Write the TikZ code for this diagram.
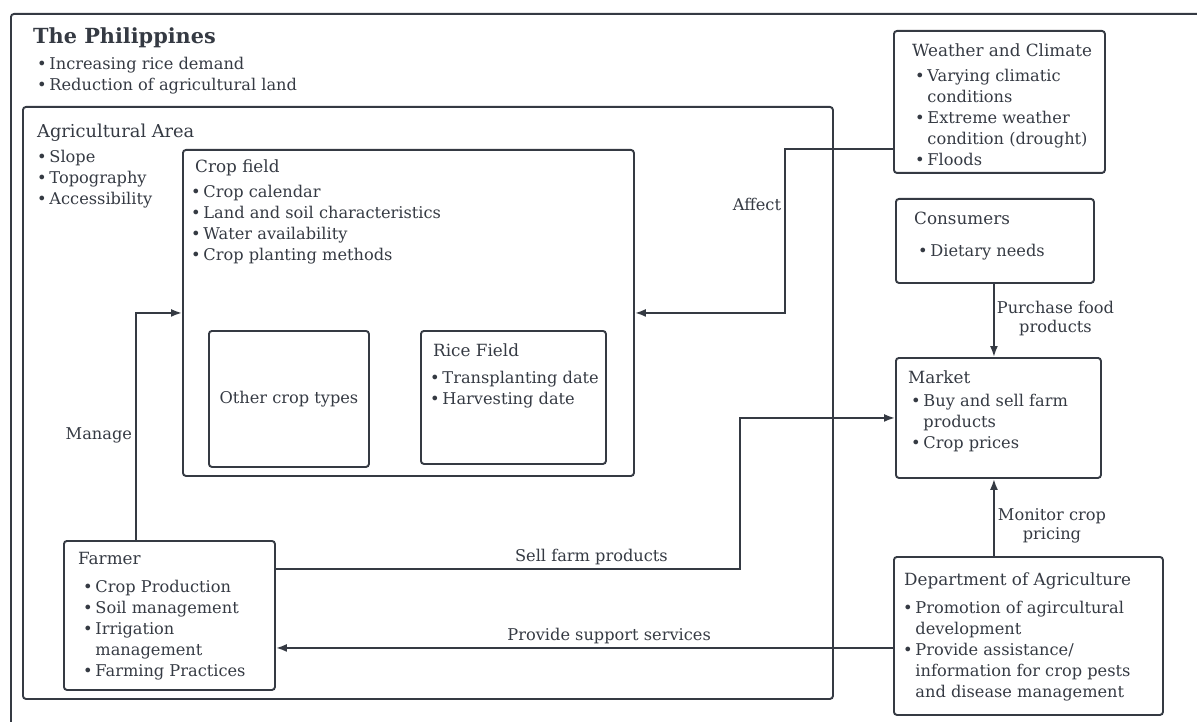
\documentclass[tikz,border=0pt]{standalone}
\usepackage{fontspec}
\setmainfont{DejaVu Serif}
\usetikzlibrary{positioning,arrows.meta}
\definecolor{ink}{HTML}{353A43}

\tikzset{
  box/.style={draw=ink, line width=1.9pt, rounded corners=3pt, anchor=north west, inner sep=0pt},
  txt/.style={inner sep=0pt, align=left, text=ink, font=\fontsize{16.2}{21}\selectfont},
  head/.style={txt, font=\fontsize{16.8}{21}\selectfont},
  conn/.style={draw=ink, line width=1.9pt, -{Latex[length=11pt,width=8pt]}},
  lbl/.style={text=ink, font=\fontsize{16.2}{19}\selectfont, inner sep=3pt, align=center},
}
\newcommand{\bul}{\textbullet\,}
\newcommand{\ind}{\hphantom{\textbullet\,}}

\begin{document}
\begin{tikzpicture}[x=1pt,y=-1pt]
  \useasboundingbox (0,0) rectangle (1197,722);
  \clip (0,0) rectangle (1197,722);

  % boxes
  \node[box, minimum width=1200, minimum height=720] (phil) at (10,13) {};
  \node[box, minimum width=810, minimum height=592] (agri) at (22,106) {};
  \node[box, minimum width=451, minimum height=326] (crop) at (182,149) {};
  \node[box, minimum width=160, minimum height=136] (other) at (208,330) {};
  \node[box, minimum width=185, minimum height=133] (rice) at (420,330) {};
  \node[box, minimum width=211, minimum height=142] (weather) at (893,30) {};
  \node[box, minimum width=198, minimum height=84] (cons) at (895,198) {};
  \node[box, minimum width=205, minimum height=120] (market) at (895,357) {};
  \node[box, minimum width=269, minimum height=158] (dept) at (893,556) {};
  \node[box, minimum width=211, minimum height=149] (farmer) at (63,540) {};

  % texts
  \node[txt, font=\fontsize{20.8}{24}\selectfont\bfseries, below right=14pt and 23pt of phil.north west] (philT) {The Philippines};
  \node[txt, below right=44pt and 27pt of phil.north west] (philL) {\bul Increasing rice demand\\\bul Reduction of agricultural land};
  \node[head, font=\fontsize{17.8}{21}\selectfont, below right=18pt and 15pt of agri.north west] (agriT) {Agricultural Area};
  \node[txt, below right=44pt and 15pt of agri.north west] (agriL) {\bul Slope\\\bul Topography\\\bul Accessibility};
  \node[head, below right=11pt and 13pt of crop.north west] (cropT) {Crop field};
  \node[txt, below right=36pt and 9pt of crop.north west] (cropL) {\bul Crop calendar\\\bul Land and soil characteristics\\\bul Water availability\\\bul Crop planting methods};
  \node[txt] (otherT) at (other.center) {Other crop types};
  \node[head, below right=14pt and 13pt of rice.north west] (riceT) {Rice Field};
  \node[txt, below right=41pt and 10pt of rice.north west] (riceL) {\bul Transplanting date\\\bul Harvesting date};
  \node[head, below right=14pt and 19pt of weather.north west] (weatherT) {Weather and Climate};
  \node[txt, below right=39pt and 22pt of weather.north west] (weatherL) {\bul Varying climatic\\\ind conditions\\\bul Extreme weather\\\ind condition (drought)\\\bul Floods};
  \node[head, below right=14pt and 19pt of cons.north west] (consT) {Consumers};
  \node[txt, below right=46pt and 23pt of cons.north west] (consL) {\bul Dietary needs};
  \node[head, below right=14pt and 13pt of market.north west] (marketT) {Market};
  \node[txt, below right=37pt and 16pt of market.north west] (marketL) {\bul Buy and sell farm\\\ind products\\\bul Crop prices};
  \node[head, below right=17pt and 11pt of dept.north west] (deptT) {Department of Agriculture};
  \node[txt, below right=45pt and 10pt of dept.north west] (deptL) {\bul Promotion of agircultural\\\ind development\\\bul Provide assistance/\\\ind information for crop pests\\\ind and disease management};
  \node[head, below right=12pt and 15pt of farmer.north west] (farmerT) {Farmer};
  \node[txt, below right=40pt and 20pt of farmer.north west] (farmerL) {\bul Crop Production\\\bul Soil management\\\bul Irrigation\\\ind management\\\bul Farming Practices};

  % connectors
  \draw[conn] ([yshift=-47pt]weather.west) -- ++(-108,0) |- node[lbl, left, pos=0.17] {Affect} (crop.east);
  \draw[conn] ([xshift=-33.5pt]farmer.north) |- node[lbl, left, pos=0.23] {Manage} (crop.west);
  \draw[conn] ([yshift=46.5pt]farmer.east) -- node[lbl, above, pos=0.68] {Sell farm products} ++(464,0) |- (market.west);
  \draw[conn] ([yshift=-12pt]dept.west) -- node[lbl, above, pos=0.46] {Provide support services} ([yshift=-32.5pt]farmer.east);
  \draw[conn] ([xshift=-1pt]cons.south) -- node[lbl, right, xshift=-1pt, yshift=2pt] {Purchase food\\products} ([xshift=-1pt]cons.south |- market.north);
  \draw[conn] ([xshift=-4.5pt]dept.north -| market.south) -- node[lbl, right, yshift=-8pt] {Monitor crop\\pricing} ([xshift=-4.5pt]market.south);
\end{tikzpicture}
\end{document}
